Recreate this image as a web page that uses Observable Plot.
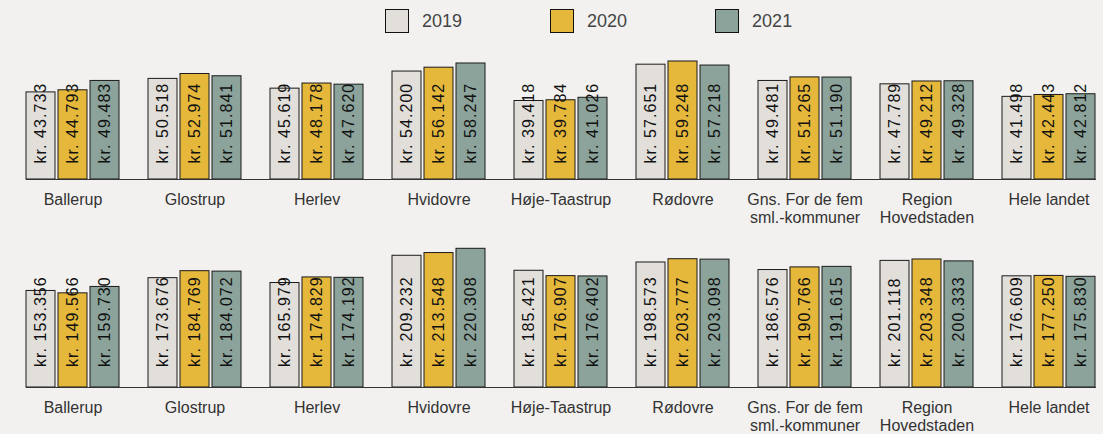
<!DOCTYPE html>
<html><head><meta charset="utf-8">
<script src="https://cdn.jsdelivr.net/npm/d3@7"></script>
<script src="https://cdn.jsdelivr.net/npm/@observablehq/plot@0.6"></script>
<style>
body{margin:0;background:#f2f1ef;font-family:"Liberation Sans",Arial,sans-serif;width:1103px;height:434px;overflow:hidden}
#legend{height:42px;display:flex;align-items:flex-start;padding-left:385px;gap:88px;box-sizing:border-box;padding-top:9px}
.item{display:flex;align-items:center;font-size:18px;color:#444;line-height:24px}
.sw{width:22px;height:22px;border:1px solid #111;margin-right:13px}
svg{display:block}
g[aria-label="text"] text{letter-spacing:1.05px}
</style></head><body>
<div id="legend"></div><div id="chart"></div>
<script>
const categories = ["Ballerup","Glostrup","Herlev","Hvidovre","Høje-Taastrup","Rødovre","Gns. For de fem\nsml.-kommuner","Region\nHovedstaden","Hele landet"];
const years = ["2019","2020","2021"];
const colors = ["#e2dfdb","#e5b73b","#8ba39a"];
const panelA2019 = [43733,50518,45619,54200,39418,57651,49481,47789,41498];
const panelA2020 = [44793,52974,48178,56142,39784,59248,51265,49212,42443];
const panelA2021 = [49483,51841,47620,58247,41026,57218,51190,49328,42812];
const panelB2019 = [153356,173676,165979,209232,185421,198573,186576,201118,176609];
const panelB2020 = [149566,184769,174829,213548,176907,203777,190766,203348,177250];
const panelB2021 = [159730,184072,174192,220308,176402,203098,191615,200333,175830];

const locale = d3.formatLocale({decimal:",", thousands:".", grouping:[3], currency:["kr. ",""]});
const fmt = locale.format("$,.0f");

// legend
const legend = d3.select("#legend");
years.forEach((y,i)=>{
  const it = legend.append("div").attr("class","item");
  it.append("div").attr("class","sw").style("background",colors[i]);
  it.append("span").text(y);
});

function panel(series, domainMax, height, marginTop, marginBottom, labelDy){
  const rows = [];
  categories.forEach((cat,i)=>{ series.forEach((arr,j)=> rows.push({category:cat, year:years[j], value:arr[i]})); });
  return Plot.plot({
    width:1103, height, marginTop, marginBottom, marginLeft:10, marginRight:0,
    style:{background:"transparent", fontFamily:"Liberation Sans, Arial, sans-serif"},
    fx:{domain:categories, range:[10.4,1110], paddingInner:0.236, paddingOuter:0.118, label:null, axis:null},
    x:{domain:years, paddingInner:0.1, paddingOuter:0, axis:null},
    y:{domain:[0,domainMax], axis:null},
    color:{domain:years, range:colors},
    marks:[
      Plot.barY(rows,{fx:"category", x:"year", y:"value", fill:"year", stroke:"#1a1a1a", strokeWidth:1}),
      Plot.text(rows,{fx:"category", x:"year", y:0, text:d=>fmt(d.value), rotate:-90, textAnchor:"start", dy:labelDy, fontSize:16, fill:"#111"}),
      Plot.frame({anchor:"bottom", facet:"super", stroke:"#333"}),
      Plot.axisFx({anchor:"bottom", tickSize:0, tickPadding:13, fontSize:16, lineHeight:1.1, label:null, fill:"#333"})
    ]
  });
}
const chart = document.getElementById("chart");
chart.append(panel([panelA2019,panelA2020,panelA2021], 60000, 185, 17.5, 48, -16));
chart.append(panel([panelB2019,panelB2020,panelB2021], 230000, 207, 15.2, 47, -20.5));
</script></body></html>
